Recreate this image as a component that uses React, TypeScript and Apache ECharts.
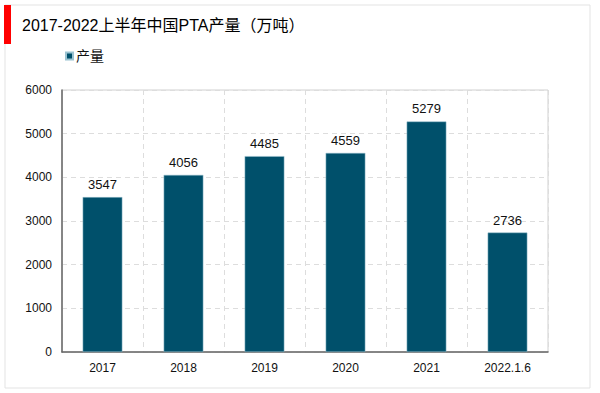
import React, { useEffect, useRef } from "react";
import * as echarts from "echarts";

const categories = ["2017", "2018", "2019", "2020", "2021", "2022.1.6"];
const production = [3547, 4056, 4485, 4559, 5279, 2736];
const seriesName = "产量";
const titleText = "2017-2022上半年中国PTA产量（万吨）";

export default function App() {
  const ref = useRef<HTMLDivElement>(null);
  useEffect(() => {
    const chart = echarts.init(ref.current!, null, { renderer: "svg" });
    const font = "Arial, 'Liberation Sans', 'Noto Sans CJK SC', sans-serif";
    chart.setOption({
      animation: false,
      backgroundColor: "#ffffff",
      graphic: [
        {
          type: "rect",
          shape: { x: 5, y: 5, width: 585, height: 383 },
          style: { fill: "none", stroke: "#e3e3e3", lineWidth: 1 },
        },
        {
          type: "rect",
          shape: { x: 4, y: 5, width: 7, height: 39 },
          style: { fill: "#ff0000" },
        },
        {
          type: "text",
          x: 22,
          y: 25,
          style: {
            text: titleText,
            font: `16px ${font}`,
            fill: "#000000",
            verticalAlign: "middle",
          },
        },
      ],
      legend: {
        left: 60,
        top: 44,
        itemWidth: 7,
        itemHeight: 7,
        itemGap: 4,
        icon: "rect",
        textStyle: { fontSize: 14, color: "#111", fontFamily: font, padding: [0, 0, 0, -2] },
        data: [seriesName],
      },
      grid: { left: 62, right: 52, top: 90, bottom: 41, show: true, borderColor: "#d0d0d0", borderWidth: 1 },
      xAxis: {
        type: "category",
        data: categories,
        axisLine: { lineStyle: { color: "#666", width: 1.5 } },
        axisTick: { show: false },
        axisLabel: { color: "#111", fontSize: 12, fontFamily: font, margin: 10 },
        splitLine: { show: true, lineStyle: { color: "#dddddd", type: [5, 4] } },
      },
      yAxis: {
        type: "value",
        min: 0,
        max: 6000,
        interval: 1000,
        axisLine: { show: true, lineStyle: { color: "#666", width: 1.5 } },
        axisTick: { show: false },
        axisLabel: { color: "#111", fontSize: 12, fontFamily: font, margin: 10, formatter: (v: number) => String(v) },
        splitLine: { show: true, lineStyle: { color: "#dddddd", type: [5, 4] } },
      },
      series: [
        {
          name: seriesName,
          type: "bar",
          data: production,
          barWidth: "49%",
          itemStyle: { color: "#00506b", borderColor: "#9cc3d1", borderWidth: 0.5 },
          label: {
            show: true,
            position: "top",
            distance: 6,
            color: "#111",
            fontSize: 13,
            fontFamily: font,
          },
        },
      ],
    });
    return () => chart.dispose();
  }, []);
  return <div ref={ref} style={{ width: 600, height: 393, position: "absolute", left: 0, top: 0 }} />;
}
